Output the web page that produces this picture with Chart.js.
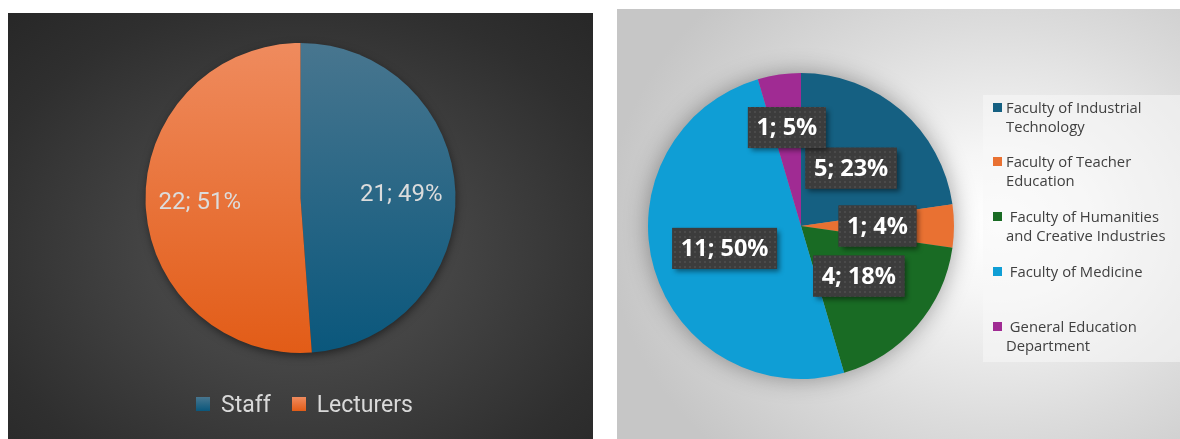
<!DOCTYPE html>
<html>
<head>
<meta charset="utf-8">
<script src="https://cdn.jsdelivr.net/npm/chart.js@4.4.1/dist/chart.umd.min.js"></script>
<style>
  html, body { margin: 0; padding: 0; width: 1180px; height: 439px; overflow: hidden; background: #ffffff; }
  #staffPanel {
    position: absolute; left: 8px; top: 13px; width: 585px; height: 426px;
    background: radial-gradient(ellipse 75% 80% at 50% 56%, #505050 0%, #444444 35%, #2f2f2f 75%, #262626 100%);
  }
  #facultyPanel {
    position: absolute; left: 617px; top: 9px; width: 563px; height: 430px;
    background: radial-gradient(ellipse 70% 75% at 68% 50%, #ffffff 0%, #f6f6f6 22%, #dcdcdc 62%, #c6c6c6 100%);
  }
  canvas { position: absolute; left: 0; top: 0; }
  #staffLegend {
    position: absolute; left: 196px; top: 390px; height: 28px;
    display: flex; align-items: center;
    font-family: Roboto, sans-serif; font-size: 23px; color: #d9d9d9;
  }
  #staffLegend .sw { width: 14px; height: 14px; margin-right: 11px; }
  #staffLegend .item { display: flex; align-items: center; margin-right: 21px; }
  #facultyLegendBox {
    position: absolute; left: 983px; top: 95px; width: 197px; height: 267px;
    background: rgba(248, 248, 248, 0.55);
  }
  .fitem { position: absolute; left: 993px; width: 185px; font-family: 'Open Sans', sans-serif;
    font-size: 14.8px; line-height: 19px; color: #404040; }
  .fitem .sw { position: absolute; left: 0; top: 5px; width: 9px; height: 9px; }
  .fitem .txt { position: absolute; left: 13px; top: 0; width: 172px; white-space: pre-wrap; }
</style>
</head>
<body>
<div id="staffPanel"><canvas id="staffChart" width="585" height="426"></canvas></div>
<div id="staffLegend"></div>
<div id="facultyPanel"><canvas id="facultyChart" width="563" height="430"></canvas></div>
<div id="facultyLegendBox"></div>
<div id="facultyLegend"></div>

<script>
// Staff vs lecturers
const staffCategories = ['Staff', 'Lecturers'];
const staffCounts = [21, 22];
const staffPercentLabels = ['49%', '51%'];

// Respondents by faculty
const facultyCategories = [
  'Faculty of Industrial Technology',
  'Faculty of Teacher Education',
  ' Faculty of Humanities and Creative Industries',
  ' Faculty of Medicine',
  ' General Education Department'
];
const facultyCounts = [5, 1, 4, 11, 1];
const facultyPercentLabels = ['23%', '4%', '18%', '50%', '5%'];

// Colours
const staffTop = ['#48768f', '#ef8b5e'];
const staffBottom = ['#0a577c', '#e25c17'];
const facultyColors = ['#156082', '#E97132', '#196B24', '#0F9ED5', '#A02B93'];

// Soft shadow under the whole pie
const pieShadow = {
  id: 'pieShadow',
  beforeDatasetsDraw(chart, args, opts) {
    const arc = chart.getDatasetMeta(0).data[0];
    if (!arc) return;
    const c = chart.ctx;
    c.save();
    c.shadowColor = opts.color;
    c.shadowBlur = opts.blur;
    c.shadowOffsetX = opts.dx || 0;
    c.shadowOffsetY = opts.dy || 0;
    c.beginPath();
    c.arc(arc.x, arc.y, arc.outerRadius - 1, 0, Math.PI * 2);
    c.fillStyle = opts.fill;
    c.fill();
    c.restore();
  }
};

function dotPattern(ctx) {
  const p = document.createElement('canvas');
  p.width = 5; p.height = 5;
  const g = p.getContext('2d');
  g.fillStyle = '#3c3c3c';
  g.fillRect(0, 0, 5, 5);
  g.fillStyle = '#4a4a4a';
  g.fillRect(2, 2, 2, 2);
  return ctx.createPattern(p, 'repeat');
}

// Value labels placed along each slice's bisector
const sliceLabels = {
  id: 'sliceLabels',
  afterDatasetsDraw(chart, args, opts) {
    const meta = chart.getDatasetMeta(0);
    const c = chart.ctx;
    const counts = chart.data.datasets[0].data;
    c.save();
    c.font = opts.font;
    c.textAlign = 'center';
    c.textBaseline = 'middle';
    meta.data.forEach((arc, i) => {
      const mid = (arc.startAngle + arc.endAngle) / 2;
      const f = opts.radiusFactor[i];
      const x = arc.x + Math.cos(mid) * arc.outerRadius * f;
      const y = arc.y + Math.sin(mid) * arc.outerRadius * f;
      const text = counts[i] + '; ' + opts.percents[i];
      if (opts.box) {
        const w = c.measureText(text).width + opts.box.padX * 2;
        const h = opts.box.height;
        c.save();
        c.shadowColor = 'rgba(0,0,0,0.45)';
        c.shadowBlur = 5;
        c.shadowOffsetX = 3;
        c.shadowOffsetY = 3;
        c.fillStyle = '#3c3c3c';
        c.fillRect(x - w / 2, y - h / 2, w, h);
        c.restore();
        c.fillStyle = dotPattern(c);
        c.fillRect(x - w / 2, y - h / 2, w, h);
      }
      c.fillStyle = opts.color;
      c.fillText(text, x, y + (opts.dy || 0));
    });
    c.restore();
  }
};

// Staff / lecturers pie
new Chart(document.getElementById('staffChart'), {
  type: 'pie',
  data: {
    labels: staffCategories,
    datasets: [{
      data: staffCounts,
      borderWidth: 0,
      hoverOffset: 0,
      backgroundColor(ctx) {
        const area = ctx.chart.chartArea;
        if (!area) return staffBottom[ctx.dataIndex];
        const g = ctx.chart.ctx.createLinearGradient(0, area.top, 0, area.bottom);
        g.addColorStop(0, staffTop[ctx.dataIndex]);
        g.addColorStop(1, staffBottom[ctx.dataIndex]);
        return g;
      }
    }]
  },
  options: {
    responsive: false,
    animation: false,
    events: [],
    layout: { padding: { left: 137.5, right: 137.5, top: 30, bottom: 86 } },
    plugins: {
      legend: { display: false },
      tooltip: { enabled: false },
      pieShadow: { color: 'rgba(0,0,0,0.55)', blur: 10, dx: 1, dy: 3, fill: '#333' },
      sliceLabels: {
        font: '24px Roboto',
        color: '#dcdcdc',
        radiusFactor: [0.65, 0.65],
        percents: staffPercentLabels,
        dy: 1
      }
    }
  },
  plugins: [pieShadow, sliceLabels]
});

// Faculty pie
new Chart(document.getElementById('facultyChart'), {
  type: 'pie',
  data: {
    labels: facultyCategories,
    datasets: [{
      data: facultyCounts,
      backgroundColor: facultyColors,
      borderWidth: 0,
      hoverOffset: 0
    }]
  },
  options: {
    responsive: false,
    animation: false,
    events: [],
    layout: { padding: { left: 31, right: 226, top: 64, bottom: 60 } },
    plugins: {
      legend: { display: false },
      tooltip: { enabled: false },
      pieShadow: { color: 'rgba(0,0,0,0.38)', blur: 24, dx: 0, dy: 0, fill: '#999' },
      sliceLabels: {
        font: '700 23.5px "Open Sans"',
        color: '#ffffff',
        radiusFactor: [0.5, 0.5, 0.5, 0.52, 0.65],
        percents: facultyPercentLabels,
        box: { padX: 8.5, height: 41 },
        dy: 1
      }
    }
  },
  plugins: [pieShadow, sliceLabels]
});

// Legends
const staffLegend = document.getElementById('staffLegend');
staffCategories.forEach((name, i) => {
  const item = document.createElement('div');
  item.className = 'item';
  const sw = document.createElement('div');
  sw.className = 'sw';
  sw.style.background = 'linear-gradient(' + staffTop[i] + ',' + staffBottom[i] + ')';
  const t = document.createElement('span');
  t.textContent = name;
  item.appendChild(sw);
  item.appendChild(t);
  staffLegend.appendChild(item);
});

const facultyLegend = document.getElementById('facultyLegend');
facultyCategories.forEach((name, i) => {
  const item = document.createElement('div');
  item.className = 'fitem';
  item.style.top = (97.5 + i * 54.75) + 'px';
  const sw = document.createElement('div');
  sw.className = 'sw';
  sw.style.background = facultyColors[i];
  const t = document.createElement('div');
  t.className = 'txt';
  t.textContent = name;
  item.appendChild(sw);
  item.appendChild(t);
  facultyLegend.appendChild(item);
});
</script>
</body>
</html>
